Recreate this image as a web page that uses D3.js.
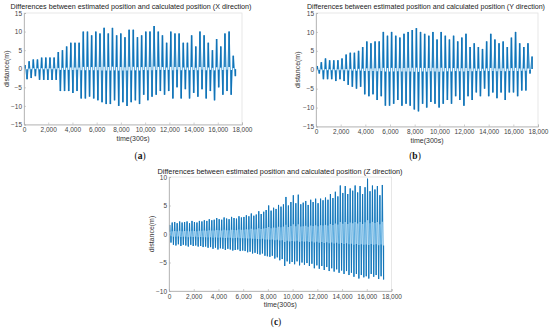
<!DOCTYPE html>
<html><head><meta charset="utf-8">
<script src="https://cdn.jsdelivr.net/npm/d3@7"></script>
<style>html,body{margin:0;padding:0;background:#fff}svg{display:block}</style>
</head><body>
<svg id="c" width="550" height="330"></svg>
<script>
// ---- data ----
const xTicks = [0,2000,4000,6000,8000,10000,12000,14000,16000,18000];
const yTicksAB = [-15,-10,-5,0,5,10,15];
const yTicksC = [-10,-5,0,5,10];

// X direction: per-cycle maxima and minima
const peaksX = [1,2,2.5,2.5,3,3,3,3,4.5,5,6,7,7,7,10,10,9,10,9.5,11,9.5,11,9,9.5,8.5,10.5,10.5,8.5,9,10,10,11.5,10,9,7,10,9.5,9.5,7,7,9,6,10,9,7,5,8,6,9.5,10,3.5];
const troughsX = [-2.8,-2.5,-2,-3,-3,-3,-3,-3,-6,-6,-6,-6.5,-6,-8,-8,-7.5,-8,-8.5,-9,-9.5,-9.5,-8.5,-10,-9,-10,-9,-8.5,-9.5,-7,-8.5,-7.5,-7,-6,-7,-6,-8,-5,-8,-5.5,-8,-6.5,-7.5,-5.5,-8,-6,-8.5,-5,-7,-6,-7,-2];
const startX = 80, stepX = 344;

// Y direction
const peaksY = [1,2,3,2.5,2.5,2.5,3,4,4.5,4.5,5,6,7.5,7,7.5,7.5,10,9,10,9,8.5,9.5,10,10.5,11,10,9.5,9,10,8,10,9,8,9,7.5,8.5,9.5,6,7,6,5.5,7.5,9.5,8,7,7.5,6,8.5,10,7,6,7,3.5];
const troughsY = [-1,-2.5,-2.5,-2.5,-3,-2.5,-3,-4,-4.5,-5,-4.5,-6.5,-7,-6.5,-8,-7,-9.5,-9.5,-9,-8,-9.5,-9,-9.5,-10.5,-11,-9,-10,-8.5,-9,-10,-9,-8,-9,-7,-8,-9.5,-7,-8,-6,-7,-5,-7,-6,-7.5,-6,-8,-6,-6,-7,-5.5,-5.5,-1];
const startY = 100, stepY = 335;

// Z direction
const peaksZ = [1.6,2.0,2.1,1.9,2.2,2.0,2.1,2.2,1.9,2.3,2.1,2.0,2.3,2.2,2.4,
  2.3,2.6,2.4,2.5,2.8,2.6,2.5,2.9,2.7,2.6,3.0,2.8,2.7,3.1,2.9,
  3.0,3.3,3.1,3.6,3.2,3.4,4.0,3.5,3.9,4.2,
  5.0,4.1,4.6,4.4,5.1,4.8,5.2,6.5,5.0,5.6,
  6.8,5.4,6.9,5.2,5.5,5.8,5.1,6.0,5.6,6.2,
  5.4,6.2,5.9,6.4,6.0,7.0,6.3,7.4,6.6,8.5,
  7.2,8.4,7.0,8.0,7.6,8.5,7.3,8.4,7.0,8.2,
  9.7,7.5,8.5,7.8,8.4,6.8,8.6];
const troughsZ = [-1.5,-1.9,-2.0,-1.8,-2.1,-1.9,-2.0,-2.2,-1.9,-2.1,-2.0,-2.2,-2.1,-2.3,-2.2,
  -2.4,-2.3,-2.6,-2.4,-2.7,-2.5,-2.6,-2.8,-2.6,-2.7,-2.9,-2.8,-2.7,-3.0,-2.9,
  -3.0,-3.2,-3.1,-3.4,-3.3,-3.5,-3.6,-3.4,-3.8,-3.9,
  -4.0,-3.8,-4.3,-4.1,-4.6,-4.4,-5.6,-4.8,-5.2,-4.9,
  -5.3,-4.8,-5.5,-5.0,-5.4,-5.1,-5.6,-5.2,-6.0,-5.5,
  -6.1,-5.6,-6.3,-5.8,-6.5,-6.0,-6.6,-6.2,-6.8,-6.4,
  -7.0,-6.5,-7.2,-6.8,-7.5,-7.0,-7.8,-7.2,-7.6,-7.4,
  -7.8,-7.0,-7.5,-7.2,-7.9,-7.4,-8.0];
const startZ = 60, stepZ = 200;

const titles = [
  "Differences between estimated position and calculated position (X direction)",
  "Differences between estimated position and calculated position (Y direction)",
  "Differences between estimated position and calculated position (Z direction)"
];
const captions = ["a","b","c"];
const xLabel = "time(300s)", yLabel = "distance(m)";

// ---- layout ----
const panels = [
  {peaks:peaksX, troughs:troughsX, start:startX, step:stepX, yd:[-15,15], yt:yTicksAB,
   l:24, r:242, t:13, b:124.5, title:titles[0], tx:131, ty:8.5, tw:241, ylx:7, cap:captions[0], cx:140, cy:159, bw:1.6, reach:0.05},
  {peaks:peaksY, troughs:troughsY, start:startY, step:stepY, yd:[-15,15], yt:yTicksAB,
   l:316, r:538, t:13, b:126.5, title:titles[1], tx:426, ty:8.5, tw:238, ylx:298, cap:captions[1], cx:415, cy:159, bw:1.6, reach:0.05},
  {peaks:peaksZ, troughs:troughsZ, start:startZ, step:stepZ, yd:[-10,10], yt:yTicksC,
   l:169, r:391.5, t:177, b:291, title:titles[2], tx:280, ty:173.5, tw:245, ylx:152, cap:captions[2], cx:276, cy:325, bw:1.1, reach:0.25}
];

const svg = d3.select("#c");
const FONT = "'Liberation Sans', Arial, sans-serif";

panels.forEach(p => {
  const x = d3.scaleLinear([0,18000],[p.l,p.r]);
  const y = d3.scaleLinear(p.yd,[p.b,p.t]);
  const g = svg.append("g");

  // faint box
  g.append("rect").attr("x",p.l).attr("y",p.t).attr("width",p.r-p.l).attr("height",p.b-p.t)
    .attr("fill","none").attr("stroke","#e2e2e2").attr("stroke-width",0.8);

  // series points: alternating maxima / minima
  const pts = [];
  p.peaks.forEach((v,i) => {
    const t = p.start + i*p.step;
    pts.push([t, v]);
    if (i < p.troughs.length) pts.push([t + p.step/2, p.troughs[i]]);
  });

  g.append("path").datum(pts)
    .attr("d", d3.line().x(d=>x(d[0])).y(d=>y(d[1])))
    .attr("fill","none").attr("stroke","#4ba3db").attr("stroke-width",0.9);

  g.selectAll("line.bar").data(pts).join("line").attr("class","bar")
    .attr("x1",d=>x(d[0])).attr("x2",d=>x(d[0]))
    .attr("y1",d=>y(d[1])).attr("y2",d=>y(d[1]*p.reach))
    .attr("stroke","#1273b6").attr("stroke-width",p.bw);

  // axes
  const ax = g.append("g").attr("transform",`translate(0,${p.b})`)
    .call(d3.axisBottom(x).tickValues(xTicks).tickFormat(d3.format(",")).tickSize(-2).tickPadding(3));
  const ay = g.append("g").attr("transform",`translate(${p.l},0)`)
    .call(d3.axisLeft(y).tickValues(p.yt).tickSize(-2).tickPadding(2));
  [ax,ay].forEach(a => {
    a.select(".domain").attr("stroke","#b0b0b0").attr("stroke-width",0.8);
    a.selectAll(".tick line").attr("stroke","#b0b0b0").attr("stroke-width",0.6);
    a.selectAll(".tick text").attr("fill","#444").attr("font-size","6.5px").attr("font-family",FONT);
  });

  // title
  g.append("text").attr("x",p.tx).attr("y",p.ty).attr("text-anchor","middle")
    .attr("font-family",FONT).attr("font-size","6.6px").attr("fill","#222")
    .attr("textLength",p.tw).attr("lengthAdjust","spacingAndGlyphs").text(p.title);

  // axis labels
  g.append("text").attr("x",(p.l+p.r)/2).attr("y",p.b+16).attr("text-anchor","middle")
    .attr("font-family",FONT).attr("font-size","7px").attr("fill","#333").text(xLabel);
  g.append("text").attr("transform",`translate(${p.ylx},${(p.t+p.b)/2}) rotate(-90)`)
    .attr("text-anchor","middle").attr("dy","0.35em")
    .attr("font-family",FONT).attr("font-size","7px").attr("fill","#333").text(yLabel);

  // caption
  const c = g.append("text").attr("x",p.cx).attr("y",p.cy).attr("text-anchor","middle")
    .attr("font-family","'Liberation Serif','DejaVu Serif',serif").attr("font-size","9.5px").attr("fill","#111");
  c.append("tspan").text("(");
  c.append("tspan").attr("font-weight","bold").text(p.cap);
  c.append("tspan").text(")");
});
</script>
</body></html>
